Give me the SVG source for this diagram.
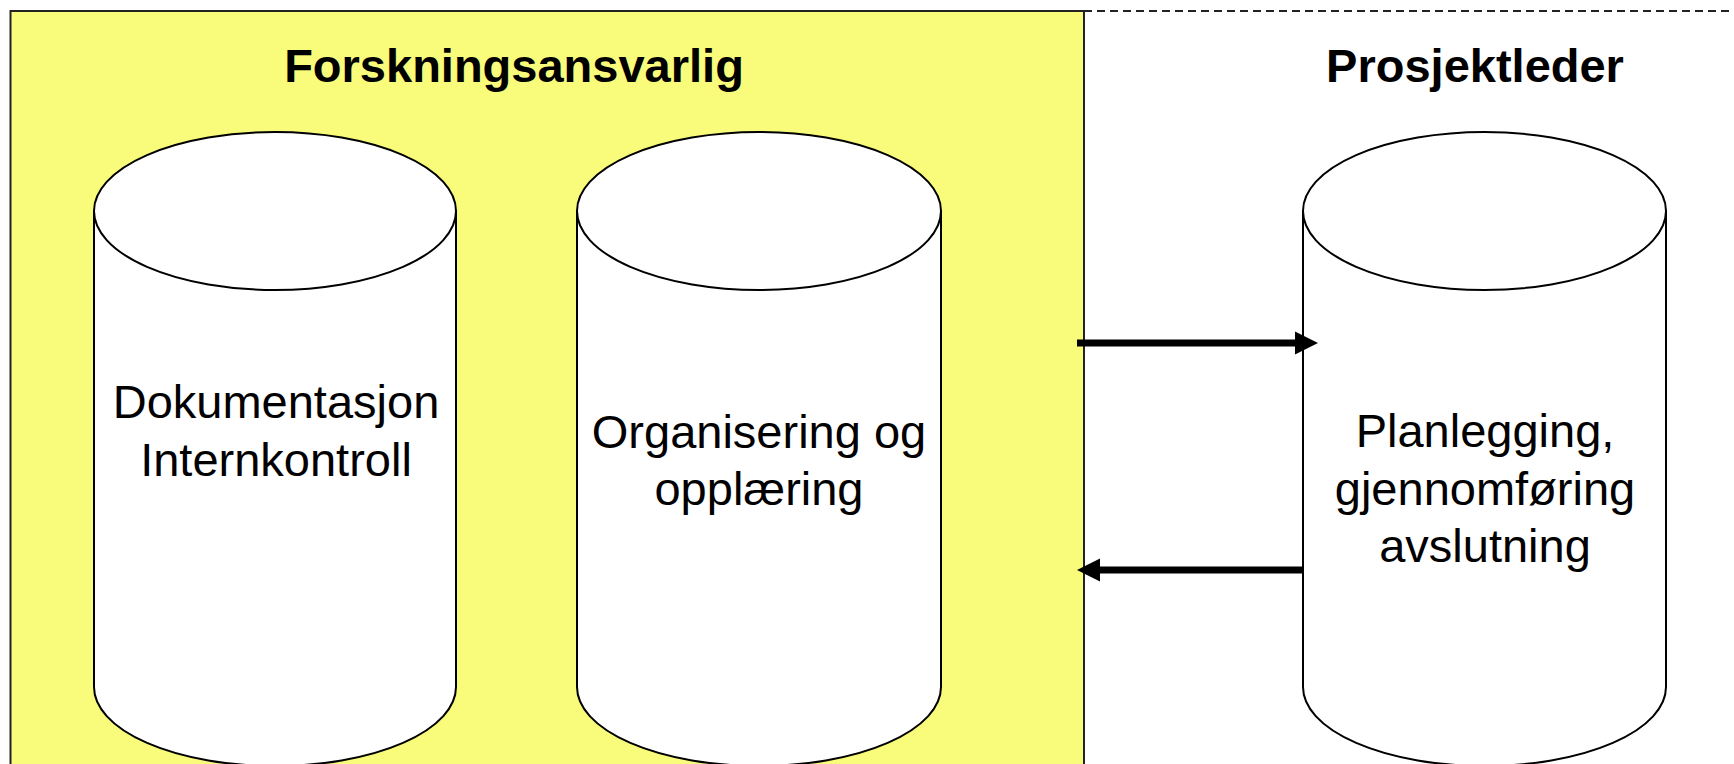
<svg xmlns="http://www.w3.org/2000/svg" width="1734" height="764" viewBox="0 0 1734 764">
<style>
.lbl{font-family:"Liberation Sans",Arial,sans-serif;font-size:47px;fill:#000;text-anchor:middle}
.ttl{font-family:"Liberation Sans",Arial,sans-serif;font-size:47px;font-weight:bold;fill:#000;text-anchor:middle}
.cyl{fill:#fff;stroke:#000;stroke-width:2}
.conn{stroke:#000;stroke-width:7;fill:none}
.head{fill:#000}
</style>
<rect width="1734" height="764" fill="#fff"/>
<g id="lane-forskningsansvarlig">
<path d="M10.5,775 L10.5,11 L1084,11 L1084,775" fill="#F9FB7A" stroke="#222" stroke-width="2"/>
<text class="ttl" x="514" y="82">Forskningsansvarlig</text>
</g>
<g id="lane-prosjektleder">
<line x1="1084" y1="11" x2="1734" y2="11" stroke="#222" stroke-width="2" stroke-dasharray="8,5"/>
<text class="ttl" x="1475" y="82">Prosjektleder</text>
</g>
<g id="node-dokumentasjon">
<path class="cyl" d="M94,211 L94,687 A181,79 0 0 0 456,687 L456,211 Z"/>
<ellipse class="cyl" cx="275" cy="211" rx="181" ry="79"/>
<text class="lbl" x="276" y="418">Dokumentasjon</text>
<text class="lbl" x="276" y="476">Internkontroll</text>
</g>
<g id="node-organisering">
<path class="cyl" d="M577,211 L577,687 A182,79 0 0 0 941,687 L941,211 Z"/>
<ellipse class="cyl" cx="759" cy="211" rx="182" ry="79"/>
<text class="lbl" x="759" y="448">Organisering og</text>
<text class="lbl" x="759" y="505">opplæring</text>
</g>
<g id="node-planlegging">
<path class="cyl" d="M1303,211 L1303,687 A181.5,79 0 0 0 1666,687 L1666,211 Z"/>
<ellipse class="cyl" cx="1484.5" cy="211" rx="181.5" ry="79"/>
<text class="lbl" x="1485" y="447">Planlegging,</text>
<text class="lbl" x="1485" y="505">gjennomføring</text>
<text class="lbl" x="1485" y="562">avslutning</text>
</g>
<g id="connectors">
<line class="conn" x1="1077" y1="343" x2="1297" y2="343"/>
<polygon class="head" points="1295,331.5 1318,343 1295,354.5"/>
<line class="conn" x1="1303" y1="570" x2="1098" y2="570"/>
<polygon class="head" points="1100,558.5 1077,570 1100,581.5"/>
</g>
</svg>
